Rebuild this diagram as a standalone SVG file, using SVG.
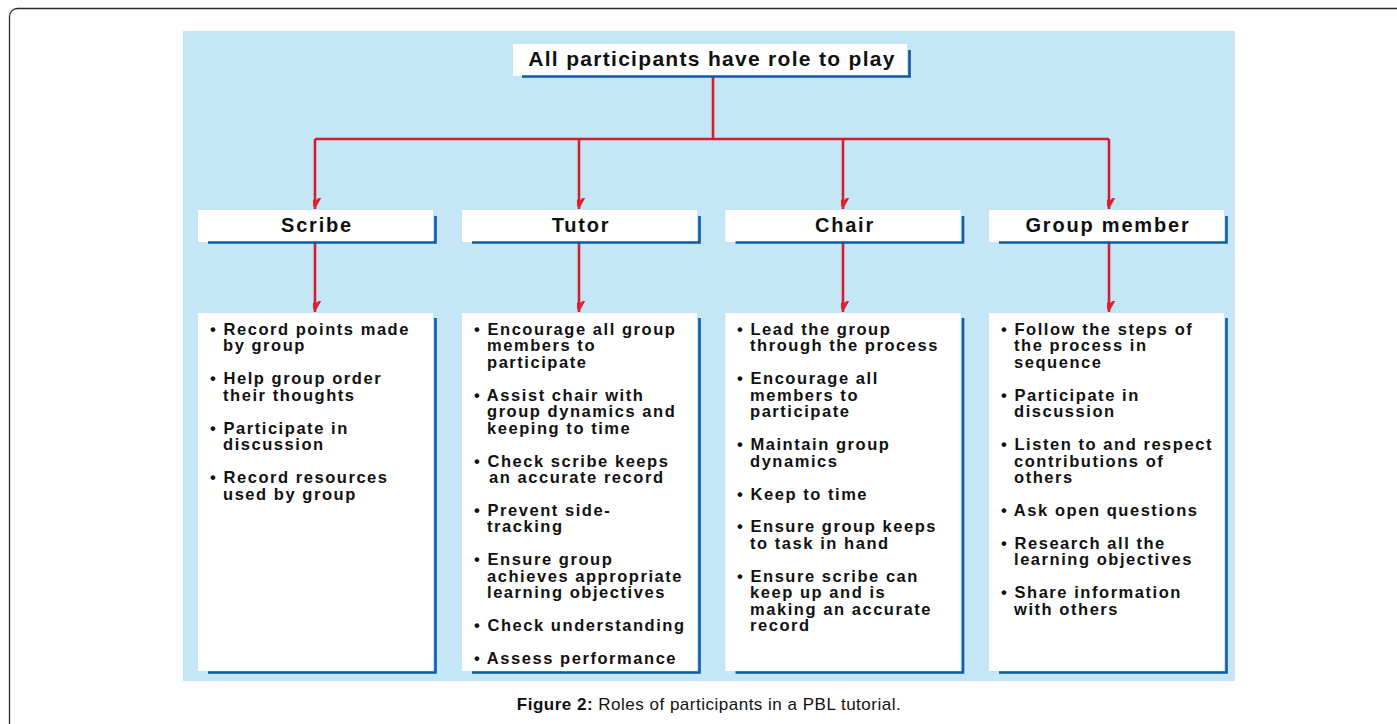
<svg xmlns="http://www.w3.org/2000/svg" width="1397" height="724" viewBox="0 0 1397 724">
<style>
.frame{fill:#fff;stroke:#2b2b2b;stroke-width:1.3}
.panel{fill:#c5e6f6}
.box{fill:#fff}
.sh{fill:none;stroke:#0d5ba6;stroke-width:2.6}
.hd{font-family:"Liberation Sans",Arial,sans-serif;font-weight:bold;font-size:21px;letter-spacing:1.3px;fill:#111;text-anchor:middle}
.rl{font-family:"Liberation Sans",Arial,sans-serif;font-weight:bold;font-size:20px;letter-spacing:1.8px;fill:#111;text-anchor:middle}
.bd{font-family:"Liberation Sans",Arial,sans-serif;font-weight:bold;font-size:16.5px;letter-spacing:1.55px;fill:#111}
.cap{font-family:"Liberation Sans",Arial,sans-serif;font-size:17px;letter-spacing:0.5px;fill:#111;text-anchor:middle}
.ln{fill:none;stroke:#d0202e;stroke-width:2.6}
</style>
<defs>
<marker id="ah" markerUnits="userSpaceOnUse" markerWidth="22" markerHeight="20" viewBox="-11 -17 22 19" refX="0" refY="0" orient="auto">
<path d="M0,0 L-8.5,-15 L0,-8 L8.5,-15 Z" fill="#e0202e" transform="rotate(-90)"/>
</marker>
</defs>
<rect class="frame" x="9.5" y="8.5" width="1400" height="730" rx="8"/>
<rect class="panel" x="183" y="31" width="1052" height="650"/>

<g id="connectors">
<path class="ln" d="M713,77 V139"/>
<path class="ln" d="M315,139 H1109"/>
<path class="ln" d="M315,139 V209" marker-end="url(#ah)"/>
<path class="ln" d="M579,139 V209" marker-end="url(#ah)"/>
<path class="ln" d="M843,139 V209" marker-end="url(#ah)"/>
<path class="ln" d="M1109,139 V209" marker-end="url(#ah)"/>
<path class="ln" d="M315,243 V312" marker-end="url(#ah)"/>
<path class="ln" d="M579,243 V312" marker-end="url(#ah)"/>
<path class="ln" d="M843,243 V312" marker-end="url(#ah)"/>
<path class="ln" d="M1109,243 V312" marker-end="url(#ah)"/>
</g>

<g id="node-top">
<rect class="box" x="513" y="44" width="394" height="32"/>
<path class="sh" d="M522,76.5 H909.5 V50"/>
<text class="hd" x="712" y="66">All participants have role to play</text>
</g>

<g id="node-scribe">
<rect class="box" x="198" y="210" width="235" height="32"/>
<path class="sh" d="M208,242.5 H435.5 V216"/>
<text class="rl" x="317" y="232">Scribe</text>
</g>
<g id="node-tutor">
<rect class="box" x="462" y="210" width="235" height="32"/>
<path class="sh" d="M472,242.5 H699.5 V216"/>
<text class="rl" x="581" y="232">Tutor</text>
</g>
<g id="node-chair">
<rect class="box" x="725.5" y="210" width="235" height="32"/>
<path class="sh" d="M735.5,242.5 H963 V216"/>
<text class="rl" x="845" y="232">Chair</text>
</g>
<g id="node-member">
<rect class="box" x="989" y="210" width="235" height="32"/>
<path class="sh" d="M999,242.5 H1226.5 V216"/>
<text class="rl" x="1108" y="232">Group member</text>
</g>

<g id="node-scribe-duties">
<rect class="box" x="198" y="313" width="235" height="358"/>
<path class="sh" d="M208,672.5 H435.5 V318"/>
<text class="bd"><tspan x="210" y="335">• Record points made</tspan><tspan x="223" y="351.45">by group</tspan></text>
<text class="bd"><tspan x="210" y="384.35">• Help group order</tspan><tspan x="223" y="400.8">their thoughts</tspan></text>
<text class="bd"><tspan x="210" y="433.7">• Participate in</tspan><tspan x="223" y="450.15">discussion</tspan></text>
<text class="bd"><tspan x="210" y="483.05">• Record resources</tspan><tspan x="223" y="499.5">used by group</tspan></text>
</g>

<g id="node-tutor-duties">
<rect class="box" x="462" y="313" width="235" height="358"/>
<path class="sh" d="M472,672.5 H699.5 V318"/>
<text class="bd"><tspan x="474" y="335">• Encourage all group</tspan><tspan x="487" y="351.45">members to</tspan><tspan x="487" y="367.9">participate</tspan></text>
<text class="bd"><tspan x="474" y="400.8">• Assist chair with</tspan><tspan x="487" y="417.25">group dynamics and</tspan><tspan x="487" y="433.7">keeping to time</tspan></text>
<text class="bd"><tspan x="474" y="466.6">• Check scribe keeps</tspan><tspan x="489" y="483.05">an accurate record</tspan></text>
<text class="bd"><tspan x="474" y="515.95">• Prevent side-</tspan><tspan x="487" y="532.4">tracking</tspan></text>
<text class="bd"><tspan x="474" y="565.3">• Ensure group</tspan><tspan x="487" y="581.75">achieves appropriate</tspan><tspan x="487" y="598.2">learning objectives</tspan></text>
<text class="bd"><tspan x="474" y="631.1">• Check understanding</tspan></text>
<text class="bd"><tspan x="474" y="664">• Assess performance</tspan></text>
</g>

<g id="node-chair-duties">
<rect class="box" x="725.5" y="313" width="235" height="358"/>
<path class="sh" d="M735.5,672.5 H963 V318"/>
<text class="bd"><tspan x="737" y="335">• Lead the group</tspan><tspan x="750" y="351.45">through the process</tspan></text>
<text class="bd"><tspan x="737" y="384.35">• Encourage all</tspan><tspan x="750" y="400.8">members to</tspan><tspan x="750" y="417.25">participate</tspan></text>
<text class="bd"><tspan x="737" y="450.15">• Maintain group</tspan><tspan x="750" y="466.6">dynamics</tspan></text>
<text class="bd"><tspan x="737" y="499.5">• Keep to time</tspan></text>
<text class="bd"><tspan x="737" y="532.4">• Ensure group keeps</tspan><tspan x="750" y="548.85">to task in hand</tspan></text>
<text class="bd"><tspan x="737" y="581.75">• Ensure scribe can</tspan><tspan x="750" y="598.2">keep up and is</tspan><tspan x="750" y="614.65">making an accurate</tspan><tspan x="750" y="631.1">record</tspan></text>
</g>

<g id="node-member-duties">
<rect class="box" x="989" y="313" width="235" height="358"/>
<path class="sh" d="M999,672.5 H1226.5 V318"/>
<text class="bd"><tspan x="1001" y="335">• Follow the steps of</tspan><tspan x="1014" y="351.45">the process in</tspan><tspan x="1014" y="367.9">sequence</tspan></text>
<text class="bd"><tspan x="1001" y="400.8">• Participate in</tspan><tspan x="1014" y="417.25">discussion</tspan></text>
<text class="bd"><tspan x="1001" y="450.15">• Listen to and respect</tspan><tspan x="1014" y="466.6">contributions of</tspan><tspan x="1014" y="483.05">others</tspan></text>
<text class="bd"><tspan x="1001" y="515.95">• Ask open questions</tspan></text>
<text class="bd"><tspan x="1001" y="548.85">• Research all the</tspan><tspan x="1014" y="565.3">learning objectives</tspan></text>
<text class="bd"><tspan x="1001" y="598.2">• Share information</tspan><tspan x="1014" y="614.65">with others</tspan></text>
</g>

<text class="cap" x="709" y="710"><tspan font-weight="bold">Figure 2:</tspan> Roles of participants in a PBL tutorial.</text>
</svg>
